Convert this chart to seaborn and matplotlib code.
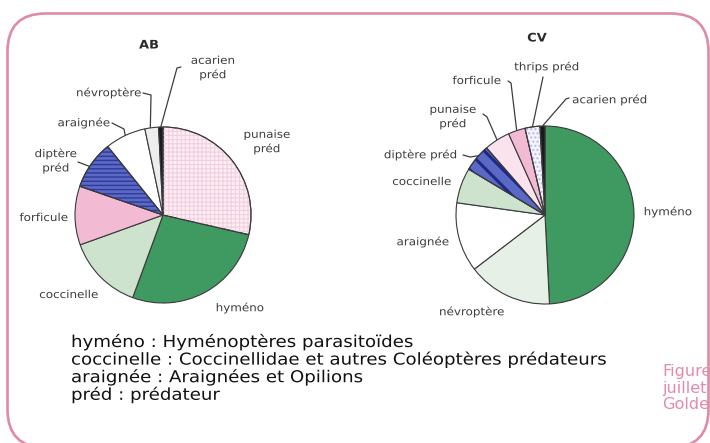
import matplotlib
matplotlib.use("Agg")
import matplotlib.pyplot as plt
from matplotlib.patches import FancyBboxPatch, Wedge
from matplotlib.patheffects import AbstractPathEffect
from matplotlib.transforms import Affine2D
import numpy as np
import seaborn as sns

sns.set_theme(style="white")
plt.rcParams["font.family"] = ["DejaVu Sans"]
plt.rcParams["hatch.linewidth"] = 1.0

W, H, DPI = 710, 443, 100

# ---- data -------------------------------------------------------------
ab_labels = ["punaise\npréd", "hyméno", "coccinelle", "forficule",
             "diptère\npréd", "araignée", "névroptère", "acarien\npréd"]
ab_values = [28.6, 27.0, 13.9, 10.8, 8.9, 7.5, 2.5, 0.8]

cv_labels = ["hyméno", "névroptère", "araignée", "coccinelle", "diptère préd",
             "punaise\npréd", "forficule", "thrips préd", "acarien préd"]
cv_values = [49.2, 15.4, 12.6, 6.4, 5.0, 4.7, 3.1, 2.7, 0.9]

legend_lines = ["hyméno : Hyménoptères parasitoïdes",
                "coccinelle : Coccinellidae et autres Coléoptères prédateurs",
                "araignée : Araignées et Opilions",
                "préd : prédateur"]
caption_lines = ["Figure", "juillet", "Golden"]

# ---- styles per group: (face, hatch, hatch colour, hatch width) ----------
GREEN = "#3e9a60"
style_ab = {
    "punaise\npréd": ("#fdeff5", "++++", "#f2cfdd", 0.8),
    "hyméno": (GREEN, None, None, 0),
    "coccinelle": ("#cde3cd", None, None, 0),
    "forficule": ("#f3bad3", None, None, 0),
    "diptère\npréd": ("#5a68c6", "----", "#2f3a96", 1.0),
    "araignée": ("#ffffff", None, None, 0),
    "névroptère": ("#ededed", None, None, 0),
    "acarien\npréd": ("#1a1a1a", None, None, 0),
}
style_cv = {
    "hyméno": (GREEN, None, None, 0),
    "névroptère": ("#e7f0e6", None, None, 0),
    "araignée": ("#ffffff", None, None, 0),
    "coccinelle": ("#cde3cd", None, None, 0),
    "diptère préd": ("#5a68c6", "\\\\", "#1f2a80", 2.2),
    "punaise\npréd": ("#fbe3ee", None, None, 0),
    "forficule": ("#f3bad3", None, None, 0),
    "thrips préd": ("#f4f4ff", "....", "#b8b8e6", 1.0),
    "acarien préd": ("#1a1a1a", None, None, 0),
}

# label placement (pixel coords) and leader elbow points
place_ab = {
    "punaise\npréd": ((267, 142), []),
    "hyméno": ((240, 308), []),
    "coccinelle": ((69, 295), []),
    "forficule": ((44, 218), []),
    "diptère\npréd": ((56, 161), [(78, 162)]),
    "araignée": ((84, 123), [(112, 123), (124, 129)]),
    "névroptère": ((109, 93), [(143, 93), (151, 95)]),
    "acarien\npréd": ((213, 68), [(181, 67), (177, 68)]),
}
place_cv = {
    "hyméno": ((668, 212), []),
    "névroptère": ((472, 312), []),
    "araignée": ((423, 242), []),
    "coccinelle": ((422, 182), []),
    "diptère préd": ((421, 155), [(463, 155), (470, 157)]),
    "punaise\npréd": ((453, 117), [(483, 114), (487, 117)]),
    "forficule": ((477, 81), [(508, 81), (511, 83)]),
    "thrips préd": ((547, 67), [(543, 77)]),
    "acarien préd": ((610, 100), [(569, 98), (566, 99)]),
}
# where each leader meets its slice: (fraction across the slice, radius factor)
leader_end_ab = {"diptère\npréd": (0.55, 1.0), "araignée": (0.5, 1.0),
                 "névroptère": (0.6, 1.0), "acarien\npréd": (0.5, 1.0)}
leader_end_cv = {"diptère préd": (0.4, 1.0), "punaise\npréd": (0.5, 1.0),
                 "forficule": (0.5, 1.0), "thrips préd": (0.5, 1.0),
                 "acarien préd": (0.5, 1.0)}


class HStretch(AbstractPathEffect):
    """Widen glyphs horizontally about a fixed pixel column."""

    def __init__(self, sx, x0):
        super().__init__()
        self.sx = sx
        self.x0 = x0

    def draw_path(self, renderer, gc, tpath, affine, rgbFace=None):
        x0 = self.x0 * renderer.dpi / DPI
        aff = affine + Affine2D().translate(-x0, 0).scale(self.sx, 1).translate(x0, 0)
        renderer.draw_path(gc, tpath, aff, rgbFace)


fig = plt.figure(figsize=(W / DPI, H / DPI), dpi=DPI, facecolor="white")
bg = fig.add_axes([0, 0, 1, 1])
bg.set_xlim(0, W)
bg.set_ylim(H, 0)
bg.axis("off")

frame = FancyBboxPatch((7.5, 13.5), 701, 434,
                       boxstyle="round,pad=0,rounding_size=38",
                       fc="white", ec="#e08aa8", lw=1.9, zorder=0.5)
bg.add_patch(frame)

TXT = "#3d3d3d"
LIM = 1.06
LABEL_SX = 1.1


def draw_pie(labels, values, styles, places, ends, center, radius, title, tpos):
    cx, cy = center
    size = radius * LIM
    ax = fig.add_axes([(cx - size) / W, (H - cy - size) / H,
                       2 * size / W, 2 * size / H])
    faces = sns.color_palette([styles[k][0] for k in labels])
    wedges, _ = ax.pie(values, colors=faces, startangle=90, counterclock=False,
                       radius=1.0,
                       wedgeprops=dict(edgecolor="#3a3a3a", linewidth=0.8))
    ax.set_xlim(-LIM, LIM)
    ax.set_ylim(-LIM, LIM)
    ax.set_aspect("equal")
    ax.axis("off")
    for w, lab in zip(wedges, labels):
        face, hatch, hcol, hlw = styles[lab]
        if hatch:
            hp = Wedge((0, 0), 1.0, w.theta1, w.theta2, fc="none",
                       ec=hcol, lw=0, hatch=hatch)
            if hasattr(hp, "set_hatch_linewidth"):
                hp.set_hatch_linewidth(hlw)
            ax.add_patch(hp)
            ax.add_patch(Wedge((0, 0), 1.0, w.theta1, w.theta2, fill=False,
                               ec="#3a3a3a", lw=0.8))
    for w, lab in zip(wedges, labels):
        (tx, ty), elbows = places[lab]
        bg.text(tx, ty, lab, ha="center", va="center", fontsize=7.8,
                color=TXT, linespacing=1.45,
                path_effects=[HStretch(LABEL_SX, tx)])
        if lab in ends:
            frac, rf = ends[lab]
            ang = np.deg2rad(w.theta1 + frac * (w.theta2 - w.theta1))
            ex = cx + radius * rf * np.cos(ang)
            ey = cy - radius * rf * np.sin(ang)
            xs, ys = zip(*(elbows + [(ex, ey)]))
            bg.plot(xs, ys, color=TXT, lw=0.9)
    bg.text(tpos[0], tpos[1], title, ha="center", va="center", fontsize=8.5,
            fontweight="bold", color="#2a2a2a",
            path_effects=[HStretch(LABEL_SX, tpos[0])])


draw_pie(ab_labels, ab_values, style_ab, place_ab, leader_end_ab,
         (163, 215), 88, "AB", (149, 45))
draw_pie(cv_labels, cv_values, style_cv, place_cv, leader_end_cv,
         (545, 215), 89, "CV", (537, 38))

LEG_X, LEG_SX = 71, 1.11
for i, line in enumerate(legend_lines):
    bg.text(LEG_X, 347 + i * 17.6, line, ha="left", va="baseline",
            fontsize=11.8, color="#111111",
            path_effects=[HStretch(LEG_SX, LEG_X)])

CAP_X = 662
for i, line in enumerate(caption_lines):
    bg.text(CAP_X, 376 + i * 16.5, line, ha="left", va="baseline",
            fontsize=11.6, color="#e38bab")

fig.savefig("out.png", dpi=DPI, facecolor="white")
